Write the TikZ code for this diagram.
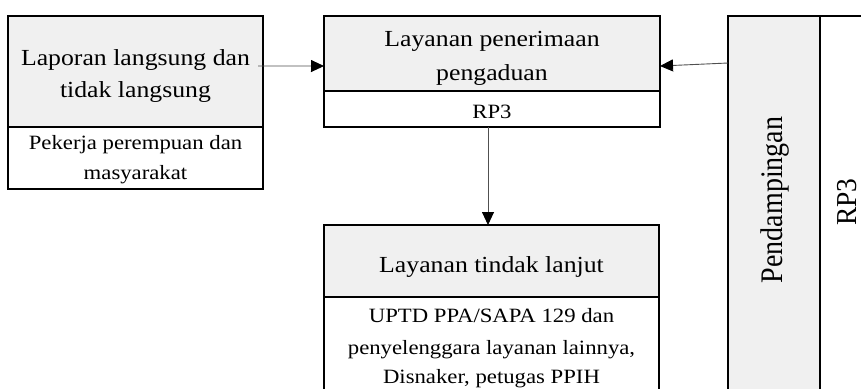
\documentclass[tikz,border=0pt]{standalone}
\usepackage{fontspec}
\setmainfont[FakeStretch=1.12]{Liberation Serif}
\newfontfamily\plainserif{Liberation Serif}
\usetikzlibrary{arrows.meta,calc}
\definecolor{hdr}{HTML}{F0F0F0}
\definecolor{arrc}{HTML}{505050}
\tikzset{
  box/.style={draw=black,line width=1.4pt,inner sep=0pt,outer sep=0pt,anchor=north west},
  hbox/.style={box,fill=hdr},
  sbox/.style={box,fill=white},
  htext/.style={font=\fontsize{23}{30}\selectfont,anchor=base,inner sep=0pt},
  stext/.style={font=\fontsize{20.3}{28}\selectfont,anchor=base,inner sep=0pt},
  vtext/.style={anchor=base,inner sep=0pt,rotate=90},
  arr/.style={draw=arrc,line width=0.9pt,-{Triangle[length=13pt,width=12pt,color=black]}}
}
\begin{document}
\begin{tikzpicture}[x=1pt,y=-1pt]
\useasboundingbox (0,0) rectangle (861,388);
\begin{scope}
\clip (0,0) rectangle (861,388);
% left
\node[hbox,minimum width=255pt,minimum height=111pt] (lh) at (8,16) {};
\node[sbox,minimum width=255pt,minimum height=62pt] (ls) at (8,127) {};
\node[htext] (lh1) at (135.5,65) {Laporan langsung dan};
\node[htext] (lh2) at (135.5,97) {tidak langsung};
\node[stext] (ls1) at (135.5,149) {Pekerja perempuan dan};
\node[stext] (ls2) at (135.5,179) {masyarakat};
% middle
\node[hbox,minimum width=336pt,minimum height=75pt] (mh) at (324,16) {};
\node[sbox,minimum width=336pt,minimum height=36pt] (ms) at (324,91) {};
\node[htext] (mh1) at (492,46) {Layanan penerimaan};
\node[htext] (mh2) at (492,80) {pengaduan};
\node[stext] (ms1) at (492,118) {RP3};
% lower
\node[hbox,minimum width=335pt,minimum height=72pt] (th) at (324,225) {};
\node[sbox,minimum width=335pt,minimum height=110pt] (ts) at (324,297) {};
\node[htext] (th1) at (491.5,272) {Layanan tindak lanjut};
\node[stext] (ts1) at (491.5,322) {UPTD PPA/SAPA 129 dan};
\node[stext] (ts2) at (491.5,354) {penyelenggara layanan lainnya,};
\node[stext] (ts3) at (491.5,383) {Disnaker, petugas PPIH};
% right
\node[hbox,minimum width=92pt,minimum height=400pt] (pd) at (728,16) {};
\coordinate (rtop) at (870,16);
\draw[line width=1.4pt] (pd.north east) -- (rtop);
\node[vtext] (pdt) at (782,200) {\scalebox{1}[1.12]{\plainserif\fontsize{28}{30}\selectfont Pendampingan}};
\node[vtext] (rp) at (856,202) {\scalebox{1}[1.05]{\plainserif\fontsize{27.5}{30}\selectfont RP3}};
% arrows
\draw[arr] ($(lh.north east)!0.45!(lh.south east)+(-5,0)$) -- ($(mh.north west)!0.667!(mh.south west)$);
\draw[arr] ($(pd.north west)+(0,47)$) -- ($(mh.north east)!0.667!(mh.south east)$);
\draw[arr] ($(ms.south)+(-4,0)$) -- ($(th.north)+(-3.5,0)$);
\end{scope}
\end{tikzpicture}
\end{document}
